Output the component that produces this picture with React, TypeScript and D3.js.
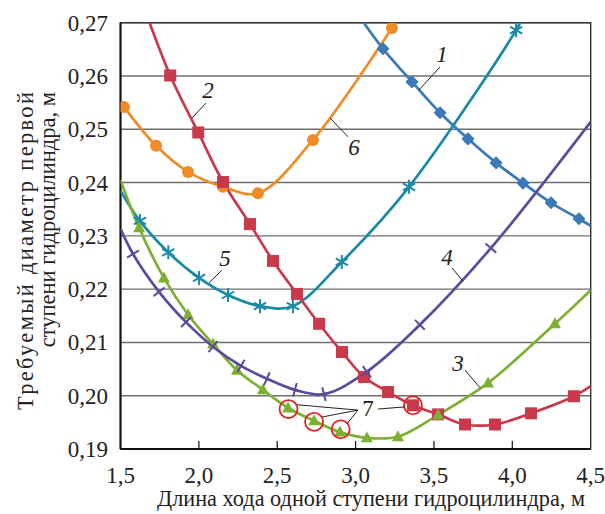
import React from 'react';
import * as d3 from 'd3';

type P = [number, number];

const xTicks = [1.5, 2.0, 2.5, 3.0, 3.5, 4.0, 4.5];
const yTicks = [0.19, 0.2, 0.21, 0.22, 0.23, 0.24, 0.25, 0.26, 0.27];

// Series 1 (blue, diamonds)
const s1Lead: P[] = [[3.04, 0.2705]];
const s1Marks: P[] = [[3.175, 0.2651], [3.36, 0.2589], [3.539, 0.2531], [3.717, 0.2482], [3.896, 0.2437], [4.068, 0.2399], [4.247, 0.2362], [4.425, 0.2332]];
const s1Tail: P[] = [[4.5, 0.2319]];

// Series 2 (red, squares)
const s2Lead: P[] = [[1.63, 0.2745]];
const s2Marks: P[] = [[1.817, 0.2601], [1.996, 0.2494], [2.154, 0.2401], [2.326, 0.2322], [2.473, 0.2253], [2.626, 0.2191], [2.767, 0.2135], [2.913, 0.2082], [3.054, 0.2035], [3.207, 0.2007], [3.366, 0.1982], [3.526, 0.1965], [3.698, 0.1946], [3.889, 0.1946], [4.119, 0.1967], [4.393, 0.1999]];
const s2Tail: P[] = [[4.5, 0.2018]];

// Series 3 (green, triangles)
const s3Lead: P[] = [[1.5, 0.2405]];
const s3Marks: P[] = [[1.619, 0.2315], [1.777, 0.2221], [1.931, 0.2152], [2.09, 0.2097], [2.243, 0.2048], [2.409, 0.2011], [2.569, 0.1977], [2.735, 0.1953], [2.9, 0.1932], [3.072, 0.1921], [3.27, 0.1923], [3.526, 0.1964], [3.845, 0.2024], [4.272, 0.2135]];
const s3Tail: P[] = [[4.5, 0.2198]];

// Series 4 (purple, crosses)
const s4Lead: P[] = [[1.5, 0.2313]];
const s4Marks: P[] = [[1.58, 0.2266], [1.746, 0.2195], [1.918, 0.2138], [2.09, 0.2092], [2.269, 0.2056], [2.434, 0.2032], [2.613, 0.2011], [2.798, 0.2003], [3.072, 0.2045], [3.41, 0.2133], [3.863, 0.2277]];
const s4Tail: P[] = [[4.5, 0.2514]];

// Series 5 (teal, asterisks)
const s5Lead: P[] = [[1.5, 0.2385]];
const s5Marks: P[] = [[1.624, 0.2328], [1.805, 0.2269], [2.001, 0.2221], [2.186, 0.2189], [2.39, 0.2168], [2.6, 0.2168], [2.912, 0.2251], [3.341, 0.2392], [4.024, 0.2686]];
const s5Tail: P[] = [[4.07, 0.2712]];

// Series 6 (orange, circles)
const s6Marks: P[] = [[1.522, 0.2542], [1.727, 0.2469], [1.931, 0.242], [2.154, 0.2392], [2.377, 0.238], [2.728, 0.248], [3.232, 0.269]];

// 7: highlighted points
const s7Points: P[] = [[2.572, 0.1975], [2.735, 0.1951], [2.905, 0.1937], [3.366, 0.1982]];

// Curve labels with leader lines
const labelText = ['1', '2', '3', '4', '5', '6'];
const labelPos: P[] = [[3.551, 0.2626], [2.058, 0.2559], [3.654, 0.2046], [3.583, 0.2245], [2.167, 0.2243], [2.99, 0.2452]];
const leaderFrom: P[] = [[3.539, 0.2617], [2.045, 0.2549], [3.698, 0.2048], [3.615, 0.224], [2.148, 0.2236], [2.837, 0.2521]];
const leaderTo: P[] = [[3.405, 0.2574], [1.956, 0.2521], [3.794, 0.2015], [3.685, 0.2215], [2.065, 0.2212], [2.952, 0.2486]];

const label7Pos: P = [3.079, 0.1962];
const label7From: P = [3.015, 0.1973];
const label7To: P[] = [[2.626, 0.1983], [2.786, 0.196], [2.945, 0.1947]];
const label7Right: P[] = [[3.143, 0.1975], [3.315, 0.1979]];

const xTitle = 'Длина хода одной ступени гидроцилиндра, м';
const yTitle1 = 'Требуемый диаметр первой';
const yTitle2 = 'ступени гидроцилиндра, м';

const W = 605, H = 514;
const M = { left: 120.5, right: 590.7, top: 22.7, bottom: 449 };

export default function App() {
  const x = d3.scaleLinear().domain([1.5, 4.5]).range([M.left, M.right]);
  const y = d3.scaleLinear().domain([0.19, 0.27]).range([M.bottom, M.top]);
  const line = d3.line<P>().x(d => x(d[0])).y(d => y(d[1])).curve(d3.curveCatmullRom.alpha(0.5));
  const fx = d3.format('.1f');
  const fy = d3.format('.2f');
  const font = '"Liberation Serif", "Times New Roman", serif';

  const red = '#c9394b', orange = '#f28b26', blue = '#3b79b7', teal = '#1b8aa6', purple = '#5b4c9d', green = '#7cb032', circ = '#e5211f';
  const lw = 2.7;

  const all1 = [...s1Lead, ...s1Marks, ...s1Tail];
  const all2 = [...s2Lead, ...s2Marks, ...s2Tail];
  const all3 = [...s3Lead, ...s3Marks, ...s3Tail];
  const all4 = [...s4Lead, ...s4Marks, ...s4Tail];
  const all5 = [...s5Lead, ...s5Marks, ...s5Tail];

  const tangent = (arr: P[], p: P) => {
    const i = arr.indexOf(p);
    const a = arr[Math.max(0, i - 1)], b = arr[Math.min(arr.length - 1, i + 1)];
    return Math.atan2(y(b[1]) - y(a[1]), x(b[0]) - x(a[0])) * 180 / Math.PI;
  };

  return (
    <svg width={W} height={H} style={{ position: 'absolute', left: 0, top: 0, background: '#fff' }} fontFamily={font}>
      <defs>
        <clipPath id="plot">
          <rect x={M.left} y={M.top} width={M.right - M.left} height={M.bottom - M.top} />
        </clipPath>
      </defs>
      <rect x={0} y={0} width={W} height={H} fill="#fff" />
      {yTicks.map(t => (
        <line key={t} x1={M.left} x2={M.right} y1={y(t)} y2={y(t)} stroke="#6e6e6e" strokeWidth={1.4} />
      ))}
      {xTicks.slice(1, -1).map(t => (
        <line key={t} x1={x(t)} x2={x(t)} y1={M.bottom} y2={M.bottom - 8} stroke="#222" strokeWidth={1.3} />
      ))}
      <rect x={M.left} y={M.top} width={M.right - M.left} height={M.bottom - M.top} fill="none" stroke="#333" strokeWidth={1.4} />
      <line x1={M.left} x2={M.left} y1={M.top} y2={M.bottom} stroke="#111" strokeWidth={2} />
      <line x1={M.left} x2={M.right} y1={M.bottom} y2={M.bottom} stroke="#111" strokeWidth={2} />

      {yTicks.map(t => (
        <text key={t} x={108} y={y(t) + 8} textAnchor="end" fontSize={23} fill="#222">{fy(t).replace('.', ',')}</text>
      ))}
      {xTicks.map(t => (
        <text key={t} x={x(t)} y={483} textAnchor="middle" fontSize={23} fill="#222">{fx(t).replace('.', ',')}</text>
      ))}
      <text x={371} y={506} textAnchor="middle" fontSize={22.5} fill="#222" textLength={428} lengthAdjust="spacingAndGlyphs">{xTitle}</text>
      <text transform="translate(33,410) rotate(-90)" textAnchor="start" fontSize={22.5} fill="#222" textLength={318} lengthAdjust="spacing">{yTitle1}</text>
      <text transform="translate(55,92) rotate(-90)" textAnchor="end" fontSize={22.5} fill="#222">{yTitle2}</text>

      <g clipPath="url(#plot)" fill="none" strokeWidth={lw} strokeLinejoin="round">
        <path d={line(s6Marks) || ''} stroke={orange} />
        <path d={line(all1) || ''} stroke={blue} />
        <path d={line(all5) || ''} stroke={teal} />
        <path d={line(all2) || ''} stroke={red} />
        <path d={line(all3) || ''} stroke={green} />
        <path d={line(all4) || ''} stroke={purple} />
      </g>
      <g clipPath="url(#plot)">
        {s6Marks.map((d, i) => <circle key={i} cx={x(d[0])} cy={y(d[1])} r={6} fill={orange} />)}
        {s1Marks.map((d, i) => {
          const cx = x(d[0]), cy = y(d[1]);
          return <path key={i} d={`M${cx},${cy - 5.5}L${cx + 5.5},${cy}L${cx},${cy + 5.5}L${cx - 5.5},${cy}Z`} fill={blue} stroke={blue} strokeWidth={1.5} strokeLinejoin="round" />;
        })}
        {s5Marks.map((d, i) => {
          const cx = x(d[0]), cy = y(d[1]), r = 7;
          const a = r * Math.cos(Math.PI / 6), b = r * Math.sin(Math.PI / 6);
          return <path key={i} d={`M${cx},${cy - r}V${cy + r}M${cx - a},${cy - b}L${cx + a},${cy + b}M${cx - a},${cy + b}L${cx + a},${cy - b}`} stroke={teal} strokeWidth={2} fill="none" />;
        })}
        {s2Marks.map((d, i) => <rect key={i} x={x(d[0]) - 6} y={y(d[1]) - 6} width={12} height={12} fill={red} />)}
        {s3Marks.map((d, i) => {
          const cx = x(d[0]), cy = y(d[1]);
          return <path key={i} d={`M${cx},${cy - 6.5}L${cx + 6},${cy + 4.5}L${cx - 6},${cy + 4.5}Z`} fill={green} />;
        })}
        {s4Marks.map((d, i) => {
          const cx = x(d[0]), cy = y(d[1]);
          const ang = tangent(all4, d);
          return <path key={i} transform={`translate(${cx},${cy}) rotate(${ang})`} d="M-7,0H7M0,-7V7" stroke={purple} strokeWidth={2} fill="none" />;
        })}
      </g>
      {s7Points.map((d, i) => <circle key={i} cx={x(d[0])} cy={y(d[1])} r={9} fill="none" stroke={circ} strokeWidth={1.8} />)}

      <g fontSize={23} fontStyle="italic" fill="#222" stroke="none">
        {labelText.map((t, i) => (
          <g key={t}>
            <text x={x(labelPos[i][0])} y={y(labelPos[i][1])} textAnchor="middle">{t}</text>
            <line x1={x(leaderFrom[i][0])} y1={y(leaderFrom[i][1])} x2={x(leaderTo[i][0])} y2={y(leaderTo[i][1])} stroke="#222" strokeWidth={1} />
          </g>
        ))}
        <text x={x(label7Pos[0])} y={y(label7Pos[1])} textAnchor="middle" fontStyle="normal">7</text>
        {label7To.map((d, i) => (
          <line key={i} x1={x(label7From[0])} y1={y(label7From[1])} x2={x(d[0])} y2={y(d[1])} stroke="#222" strokeWidth={1} />
        ))}
        <line x1={x(label7Right[0][0])} y1={y(label7Right[0][1])} x2={x(label7Right[1][0])} y2={y(label7Right[1][1])} stroke="#222" strokeWidth={1} />
      </g>
    </svg>
  );
}
